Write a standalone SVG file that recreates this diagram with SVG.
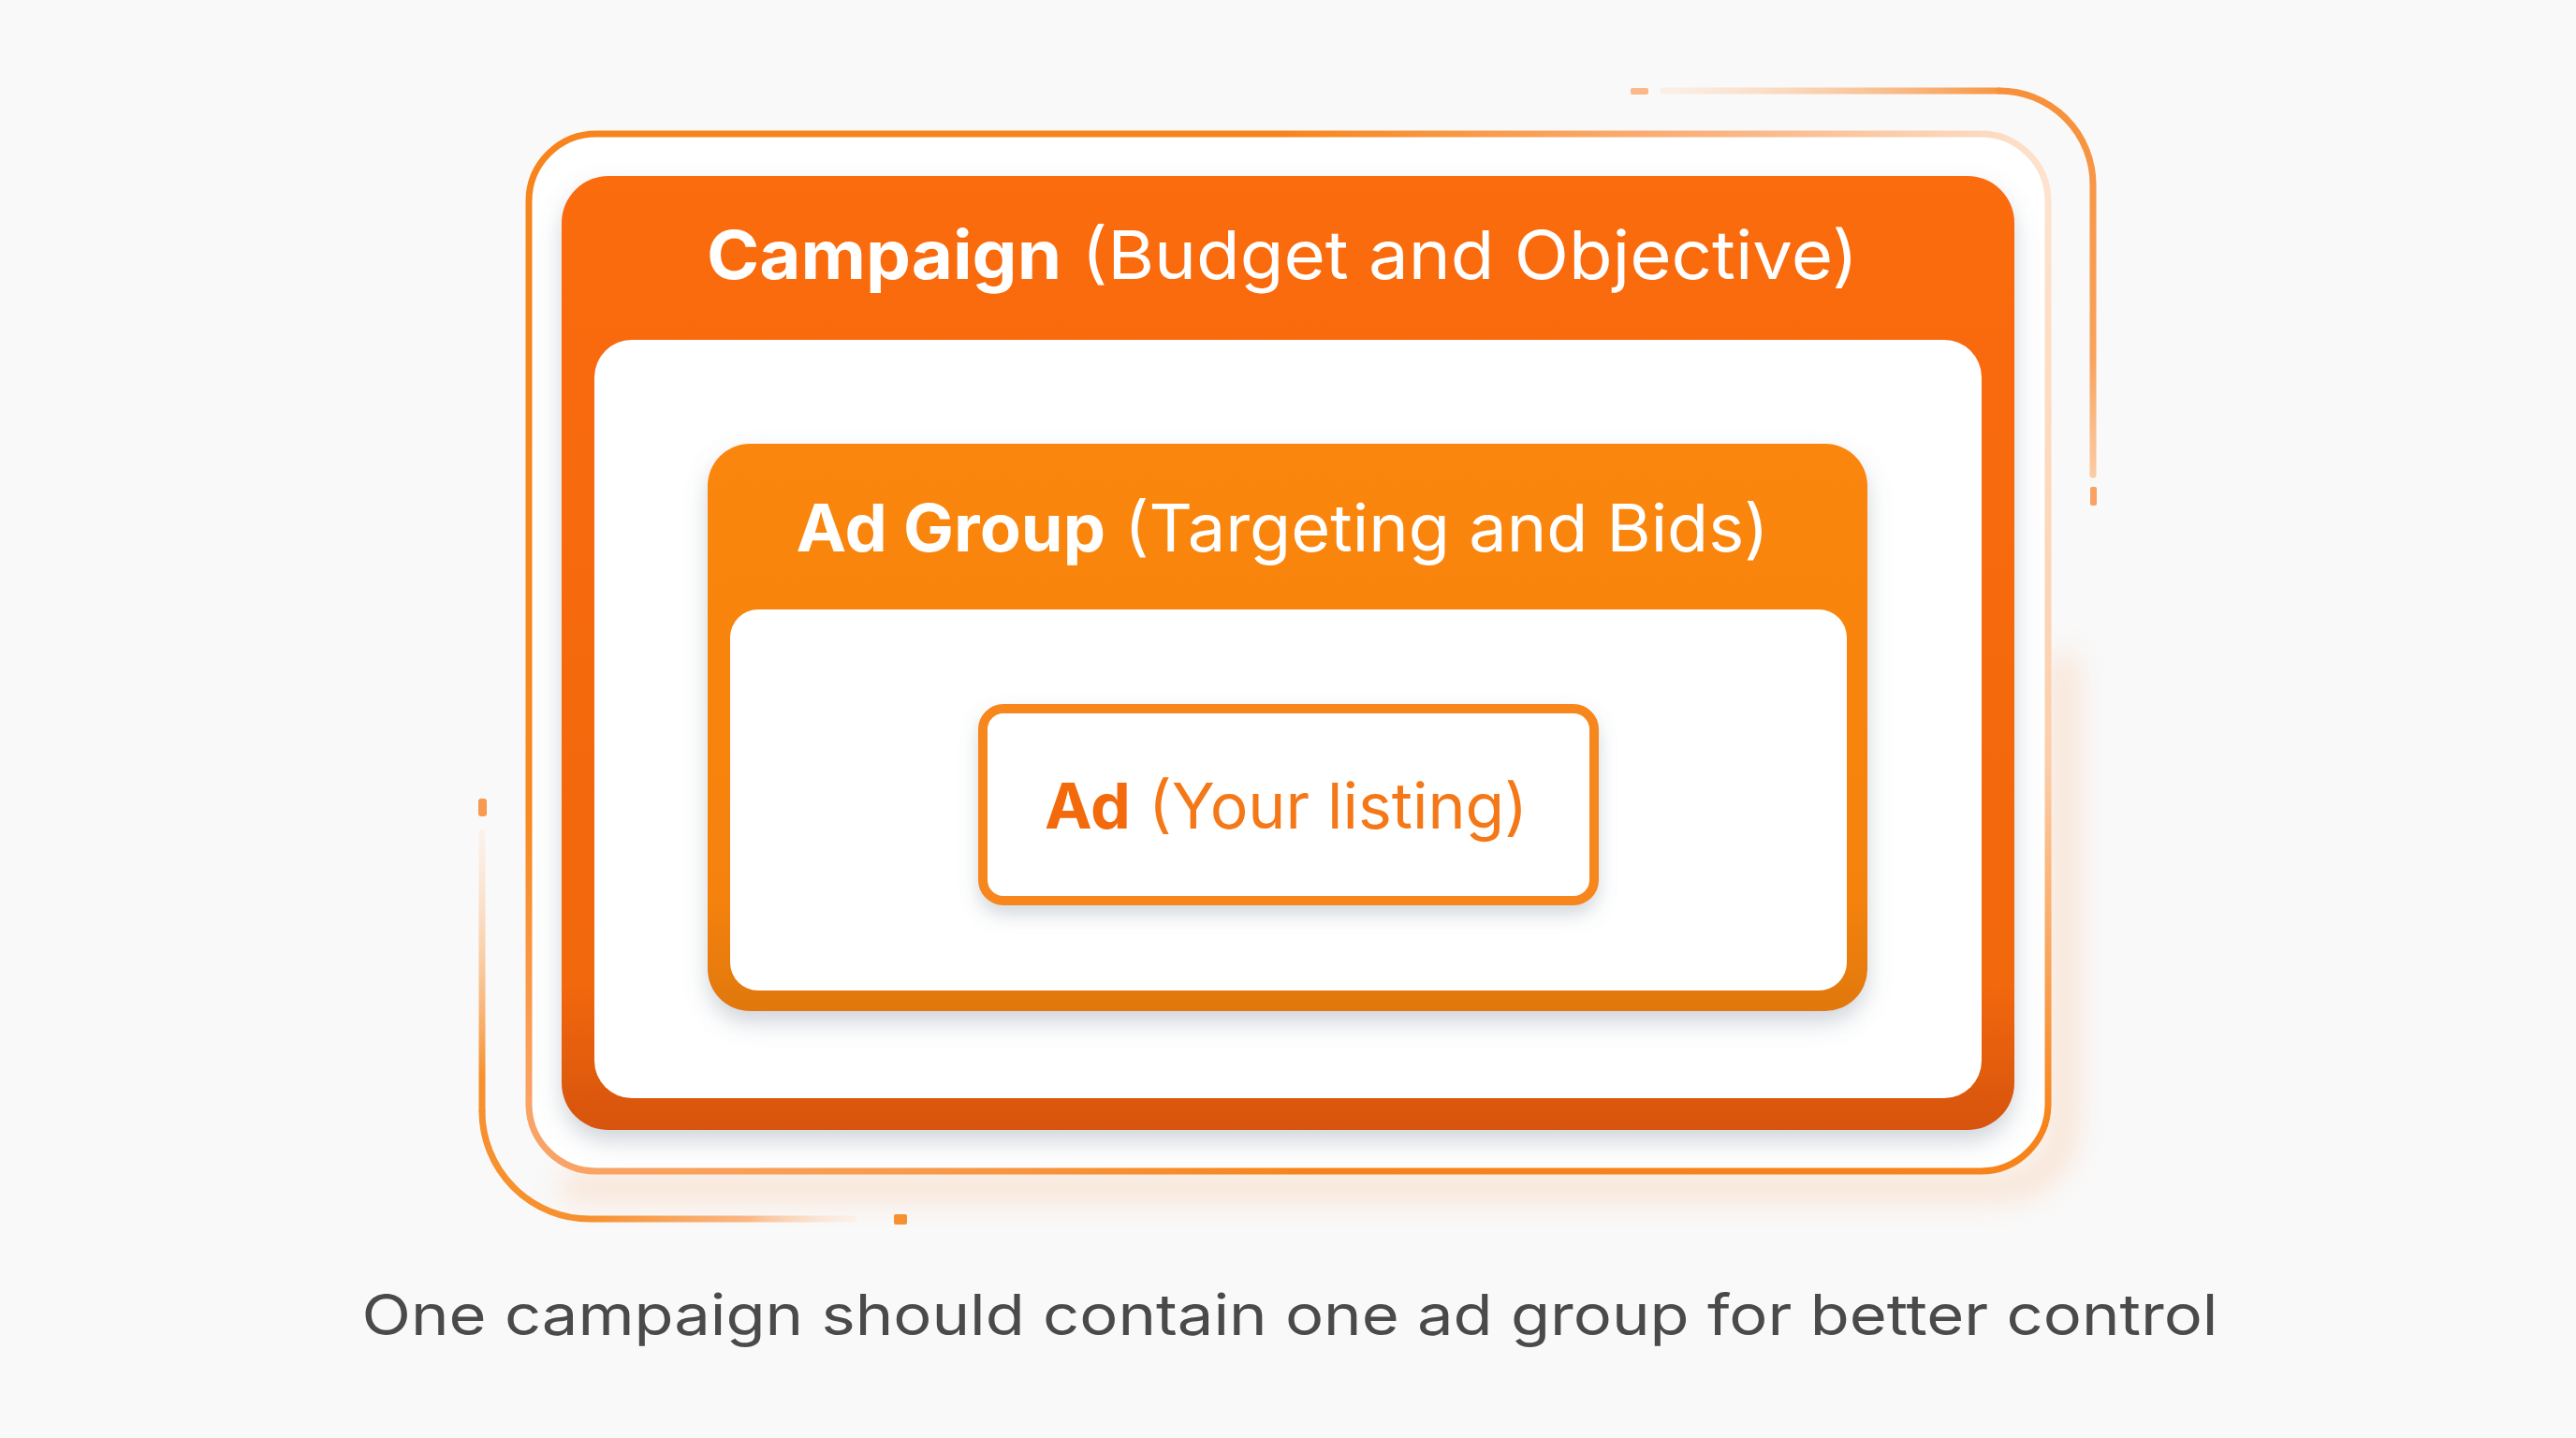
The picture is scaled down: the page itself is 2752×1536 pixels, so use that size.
<svg xmlns="http://www.w3.org/2000/svg" width="2752" height="1536" viewBox="0 0 2752 1536">
  <defs>
    <style>
      .t { font-family: Inter, "Open Sans", "Liberation Sans", sans-serif; }
      .b { font-weight: 700; }
      .r { font-weight: 400; }
      .deco { fill: none; stroke-width: 7; stroke-linecap: round; }
      .fr { fill: none; stroke-width: 7; }
    </style>
    <linearGradient id="gCamp" x1="0" y1="0" x2="0" y2="1">
      <stop offset="0" stop-color="#FA6C0A"/>
      <stop offset="0.85" stop-color="#F2670A"/>
      <stop offset="1" stop-color="#D6540A"/>
    </linearGradient>
    <linearGradient id="gGrp" x1="0" y1="0" x2="0" y2="1">
      <stop offset="0" stop-color="#FB8610"/>
      <stop offset="0.8" stop-color="#F5820F"/>
      <stop offset="1" stop-color="#E0780E"/>
    </linearGradient>
    <linearGradient id="gFrL" x1="0" y1="143" x2="0" y2="1181" gradientUnits="userSpaceOnUse">
      <stop offset="0" stop-color="#F7841C"/>
      <stop offset="0.7" stop-color="#F7891F"/>
      <stop offset="1" stop-color="#F9A466"/>
    </linearGradient>
    <linearGradient id="gFrTR" x1="1376" y1="0" x2="2188" y2="0" gradientUnits="userSpaceOnUse">
      <stop offset="0" stop-color="#F7861E"/>
      <stop offset="0.6" stop-color="#FAB787"/>
      <stop offset="1" stop-color="#FDE3CF"/>
    </linearGradient>
    <linearGradient id="gFrBR" x1="0" y1="215" x2="0" y2="1200" gradientUnits="userSpaceOnUse">
      <stop offset="0" stop-color="#FDE3CF"/>
      <stop offset="0.6" stop-color="#FCCFAC"/>
      <stop offset="1" stop-color="#F7841A"/>
    </linearGradient>
    <linearGradient id="gFrBL" x1="1376" y1="0" x2="600" y2="0" gradientUnits="userSpaceOnUse">
      <stop offset="0" stop-color="#F7861C"/>
      <stop offset="0.5" stop-color="#F89A4A"/>
      <stop offset="1" stop-color="#F9A466"/>
    </linearGradient>
    <linearGradient id="gDecoT" x1="1777" y1="0" x2="2150" y2="0" gradientUnits="userSpaceOnUse">
      <stop offset="0" stop-color="#FCE0CA" stop-opacity="0.4"/>
      <stop offset="1" stop-color="#F7903A"/>
    </linearGradient>
    <linearGradient id="gDecoR" x1="0" y1="97" x2="0" y2="507" gradientUnits="userSpaceOnUse">
      <stop offset="0" stop-color="#F7903A"/>
      <stop offset="0.7" stop-color="#F8A35E"/>
      <stop offset="1" stop-color="#FBCBA3"/>
    </linearGradient>
    <linearGradient id="gDecoL" x1="0" y1="890" x2="0" y2="1150" gradientUnits="userSpaceOnUse">
      <stop offset="0" stop-color="#FCE0CA" stop-opacity="0.3"/>
      <stop offset="1" stop-color="#F7902E"/>
    </linearGradient>
    <linearGradient id="gDecoB" x1="630" y1="0" x2="912" y2="0" gradientUnits="userSpaceOnUse">
      <stop offset="0" stop-color="#F7902E"/>
      <stop offset="0.6" stop-color="#FAB886"/>
      <stop offset="1" stop-color="#FCE3D0" stop-opacity="0.3"/>
    </linearGradient>
    <filter id="sh" x="-10%" y="-10%" width="120%" height="130%">
      <feDropShadow dx="0" dy="12" stdDeviation="12" flood-color="#70808f" flood-opacity="0.33"/>
    </filter>
    <filter id="shS" x="-10%" y="-20%" width="120%" height="150%">
      <feDropShadow dx="0" dy="10" stdDeviation="10" flood-color="#70808f" flood-opacity="0.3"/>
    </filter>
    <filter id="glow" x="-10%" y="-10%" width="120%" height="120%">
      <feGaussianBlur stdDeviation="16"/>
    </filter>
  </defs>

  <rect x="0" y="0" width="2752" height="1536" fill="#F9F9F9"/>

  <g id="frame">
    <path d="M600,1268 H2130 Q2205,1268 2205,1190 V700" fill="none" stroke="#F9A060" stroke-width="24" opacity="0.3" filter="url(#glow)"/>
    <rect x="565" y="143" width="1623" height="1108" rx="72" fill="#FFFFFF"/>
    <path class="fr" stroke="url(#gFrL)" d="M565,1181 V215 A72,72 0 0 1 637,143 H1376"/>
    <path class="fr" stroke="url(#gFrTR)" d="M1376,143 H2116 A72,72 0 0 1 2188,215"/>
    <path class="fr" stroke="url(#gFrBR)" d="M2188,215 V1181 A72,72 0 0 1 2116,1251 H1376"/>
    <path class="fr" stroke="url(#gFrBL)" d="M1376,1251 H637 A72,72 0 0 1 565,1181"/>
    <path class="deco" stroke="url(#gDecoT)" d="M1777,97 H2136"/>
    <path class="deco" stroke="url(#gDecoR)" d="M2136,97 A100,100 0 0 1 2236,197 V507"/>
    <rect x="1742" y="94" width="19" height="7" rx="2" fill="#F9B98A"/>
    <rect x="2233" y="520" width="7" height="20" rx="2" fill="#F9A262"/>
    <path class="deco" stroke="url(#gDecoL)" d="M515,890 V1187"/>
    <path class="deco" stroke="url(#gDecoB)" d="M515,1187 A115,115 0 0 0 630,1302 H912"/>
    <rect x="511" y="853" width="9" height="19" rx="3" fill="#F79A50"/>
    <rect x="955" y="1297" width="14" height="11" rx="2" fill="#F7902E"/>
  </g>

  <g id="connectors"></g>

  <g id="campaign">
    <rect x="600" y="188" width="1552" height="1019" rx="50" fill="url(#gCamp)" filter="url(#sh)"/>
    <rect x="635" y="363" width="1482" height="810" rx="40" fill="#FFFFFF"/>
    <text class="t" x="1370" y="298" text-anchor="middle" font-size="72" fill="#FFFFFF" textLength="1230" lengthAdjust="spacingAndGlyphs"><tspan class="b">Campaign</tspan><tspan class="r"> (Budget and Objective)</tspan></text>
  </g>

  <g id="adgroup">
    <rect x="756" y="474" width="1239" height="606" rx="45" fill="url(#gGrp)" filter="url(#sh)"/>
    <rect x="780" y="651" width="1193" height="407" rx="30" fill="#FFFFFF"/>
    <text class="t" x="1370" y="589" text-anchor="middle" font-size="70" fill="#FFFFFF" textLength="1039" lengthAdjust="spacingAndGlyphs"><tspan class="b">Ad Group</tspan><tspan class="r"> (Targeting and Bids)</tspan></text>
  </g>

  <g id="ad">
    <rect x="1050" y="757" width="653" height="205" rx="22" fill="#FFFFFF" stroke="#F7861A" stroke-width="10" filter="url(#shS)"/>
    <text class="t" x="1374" y="885" text-anchor="middle" font-size="67" textLength="516" lengthAdjust="spacingAndGlyphs"><tspan class="b" fill="#F26A0C">Ad</tspan><tspan class="r" fill="#F47818"> (Your listing)</tspan></text>
  </g>

  <g id="caption">
    <text class="t r" x="1378" y="1426" text-anchor="middle" font-size="61" fill="#4A4A4A" textLength="1983" lengthAdjust="spacingAndGlyphs">One campaign should contain one ad group for better control</text>
  </g>
</svg>
